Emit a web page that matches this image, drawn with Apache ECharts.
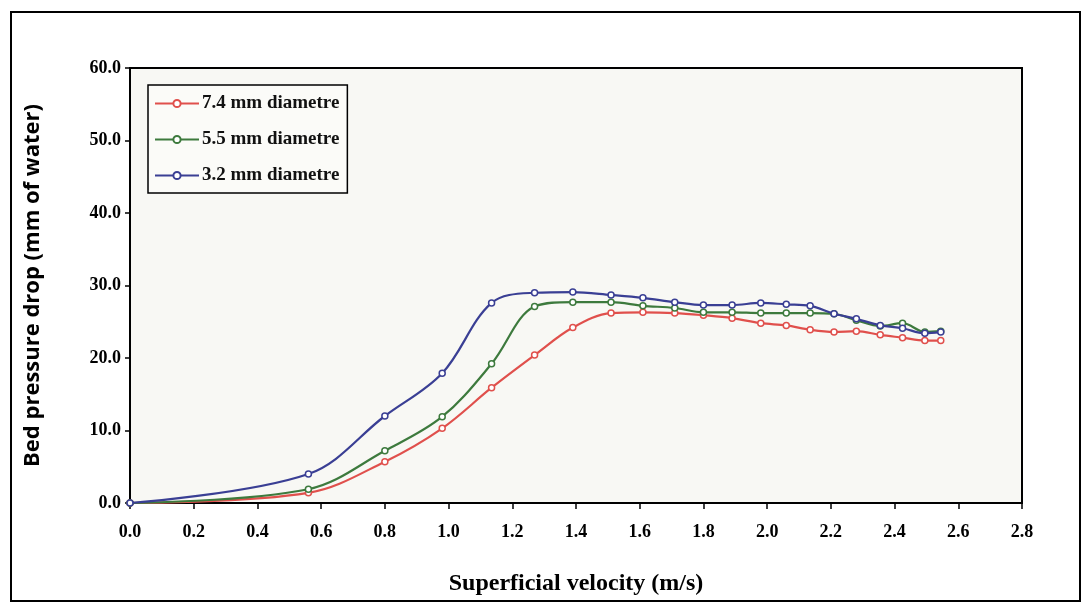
<!DOCTYPE html>
<html>
<head>
<meta charset="utf-8">
<script src="https://cdn.jsdelivr.net/npm/echarts@6/dist/echarts.min.js"></script>
<style>
html,body{margin:0;padding:0;background:#fff;}
#chart{width:1083px;height:604px;}
</style>
</head>
<body>
<div id="chart"></div>
<script>
const velocity = [0, 0.56, 0.80, 0.98, 1.135, 1.27, 1.39, 1.51, 1.61, 1.71, 1.80, 1.89, 1.98, 2.06, 2.135, 2.21, 2.28, 2.355, 2.425, 2.495, 2.545];
const d74 = [0, 1.4, 5.7, 10.3, 15.9, 20.4, 24.2, 26.2, 26.3, 26.2, 25.9, 25.5, 24.8, 24.5, 23.9, 23.6, 23.7, 23.2, 22.8, 22.4, 22.4];
const d55 = [0, 1.9, 7.2, 11.9, 19.2, 27.1, 27.7, 27.7, 27.2, 26.9, 26.3, 26.3, 26.2, 26.2, 26.2, 26.1, 25.2, 24.4, 24.8, 23.6, 23.7];
const d32 = [0, 4.0, 12.0, 17.9, 27.6, 29.0, 29.1, 28.7, 28.3, 27.7, 27.3, 27.3, 27.6, 27.4, 27.2, 26.1, 25.4, 24.5, 24.1, 23.4, 23.6];
const seriesNames = ['7.4 mm diametre', '5.5 mm diametre', '3.2 mm diametre'];
const seriesColors = ['#e0504c', '#3d7a3d', '#3a3f94'];
const xTitle = 'Superficial velocity (m/s)';
const yTitle = 'Bed pressure drop (mm of water)';

const font = 'Liberation Serif';
const pair = arr => velocity.map((v, i) => [v, arr[i]]);
const allData = [d74, d55, d32];

const chart = echarts.init(document.getElementById('chart'), null, {renderer: 'canvas'});
chart.setOption({
  backgroundColor: '#ffffff',
  animation: false,
  graphic: [{
    type: 'rect',
    shape: {x: 11, y: 12, width: 1069, height: 589},
    style: {fill: 'none', stroke: '#000', lineWidth: 2},
    silent: true
  }],
  grid: {
    left: 130, top: 68, right: 61, bottom: 101,
    containLabel: false, outerBoundsMode: 'none',
    show: true, backgroundColor: '#f8f8f4', borderColor: '#000', borderWidth: 2
  },
  legend: {
    orient: 'vertical',
    left: 148, top: 85,
    data: seriesNames,
    itemWidth: 44, itemHeight: 9, itemGap: 17,
    borderColor: '#000', borderWidth: 1.5,
    backgroundColor: '#fbfbf8',
    padding: [9, 8, 8, 6],
    textStyle: {fontFamily: font, fontWeight: 'bold', fontSize: 19, color: '#111', padding: [0, 0, 0, -2]}
  },
  xAxis: {
    type: 'value', min: 0, max: 2.8, interval: 0.2,
    name: xTitle, nameLocation: 'middle', nameGap: 69,
    nameTextStyle: {fontFamily: font, fontWeight: 'bold', fontSize: 24, color: '#000'},
    axisLine: {show: true, lineStyle: {color: '#000', width: 2}},
    axisTick: {show: true, inside: false, length: 6, lineStyle: {color: '#000', width: 1.5}},
    axisLabel: {fontFamily: font, fontWeight: 'bold', fontSize: 18, color: '#000', margin: 20,
      formatter: v => v.toFixed(1)},
    splitLine: {show: false}
  },
  yAxis: {
    type: 'value', min: 0, max: 60, interval: 10,
    name: yTitle, nameLocation: 'middle', nameGap: 86, nameRotate: 90,
    nameTextStyle: {fontFamily: 'Open Sans', fontWeight: 'bold', fontSize: 22, color: '#000'},
    axisLine: {show: true, lineStyle: {color: '#000', width: 2}},
    axisTick: {show: true, inside: false, length: 5, lineStyle: {color: '#000', width: 1.5}},
    axisLabel: {fontFamily: font, fontWeight: 'bold', fontSize: 18, color: '#000', margin: 9,
      formatter: v => v.toFixed(1)},
    splitLine: {show: false}
  },
  series: seriesNames.map((n, i) => ({
    name: n,
    type: 'line',
    data: pair(allData[i]),
    smooth: 0.35,
    clip: false,
    symbol: 'circle',
    symbolSize: 6,
    showAllSymbol: true,
    z: 2 + i,
    itemStyle: {color: '#ffffff', borderColor: seriesColors[i], borderWidth: 1.5},
    lineStyle: {color: seriesColors[i], width: 2.2}
  }))
});
</script>
</body>
</html>
